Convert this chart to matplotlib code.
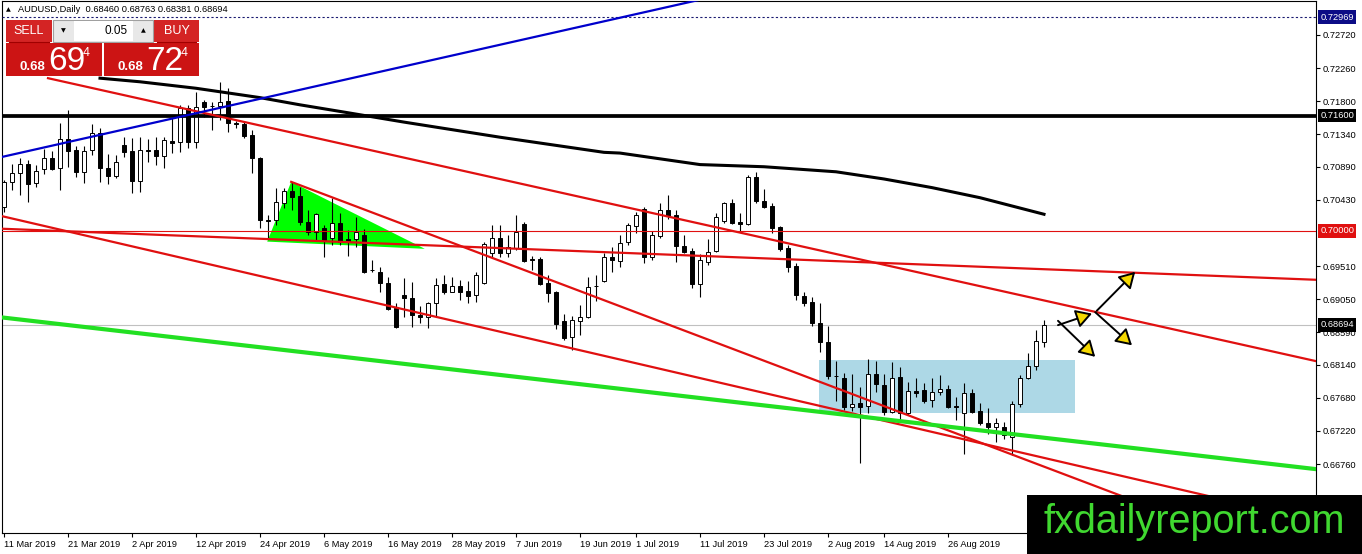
import numpy as np
import matplotlib
matplotlib.use("Agg")
import matplotlib.pyplot as plt
from matplotlib.patches import Rectangle, Polygon, FancyArrowPatch

plt.rcParams['font.family'] = ['Liberation Sans', 'DejaVu Sans']

# AUDUSD daily candles (bar 0 = 11 Mar 2019)
opens = [0.7033, 0.7068, 0.7080, 0.7093, 0.7066, 0.7086, 0.7101, 0.7087, 0.7128, 0.7112,
         0.7082, 0.7112, 0.7136, 0.7087, 0.7076, 0.7119, 0.7111, 0.7069, 0.7112, 0.7112,
         0.7104, 0.7125, 0.7123, 0.7171, 0.7123, 0.7179, 0.7174, 0.7174, 0.7180, 0.7150,
         0.7148, 0.7133, 0.7101, 0.7015, 0.7015, 0.7039, 0.7055, 0.7048, 0.7012, 0.6998,
         0.7004, 0.6990, 0.7011, 0.6989, 0.6989, 0.6994, 0.6946, 0.6943, 0.6928, 0.6893,
         0.6911, 0.6907, 0.6883, 0.6880, 0.6900, 0.6926, 0.6915, 0.6923, 0.6916, 0.6911,
         0.6928, 0.6969, 0.6990, 0.6969, 0.6976, 0.7009, 0.6961, 0.6961, 0.6928, 0.6915,
         0.6875, 0.6853, 0.6875, 0.6880, 0.6923, 0.6930, 0.6964, 0.6958, 0.6984, 0.7007,
         0.7030, 0.6964, 0.6993, 0.7029, 0.7022, 0.6979, 0.6972, 0.6926, 0.6957, 0.6972,
         0.7014, 0.7039, 0.7012, 0.7010, 0.7075, 0.7042, 0.7035, 0.7005, 0.6976, 0.6951,
         0.6909, 0.6901, 0.6872, 0.6845, 0.6799, 0.6796, 0.6755, 0.6761, 0.6756, 0.6801,
         0.6786, 0.6748, 0.6797, 0.6747, 0.6777, 0.6779, 0.6765, 0.6776, 0.6780, 0.6756,
         0.6747, 0.6775, 0.6750, 0.6733, 0.6727, 0.6727, 0.6714, 0.6759, 0.6796, 0.6812,
         0.68460]
highs = [0.7071, 0.7093, 0.7101, 0.7098, 0.7091, 0.7114, 0.7111, 0.7150, 0.7168, 0.7118,
         0.7118, 0.7148, 0.7143, 0.7107, 0.7105, 0.7130, 0.7129, 0.7130, 0.7128, 0.7130,
         0.7130, 0.7157, 0.7175, 0.7175, 0.7193, 0.7182, 0.7179, 0.7207, 0.7198, 0.7152,
         0.7151, 0.7140, 0.7102, 0.7022, 0.7060, 0.7060, 0.7068, 0.7061, 0.7029, 0.7025,
         0.7008, 0.7046, 0.7025, 0.7001, 0.7019, 0.7003, 0.6960, 0.6950, 0.6936, 0.6900,
         0.6934, 0.6929, 0.6896, 0.6901, 0.6934, 0.6939, 0.6936, 0.6932, 0.6930, 0.6943,
         0.6984, 0.7008, 0.7008, 0.6994, 0.7022, 0.7012, 0.6965, 0.6964, 0.6939, 0.6916,
         0.6884, 0.6882, 0.6897, 0.6936, 0.6939, 0.6969, 0.6978, 0.6994, 0.7011, 0.7026,
         0.7033, 0.7000, 0.7039, 0.7050, 0.7029, 0.6994, 0.6976, 0.6968, 0.6989, 0.7025,
         0.7040, 0.7044, 0.7025, 0.7078, 0.7082, 0.7058, 0.7039, 0.7007, 0.6980, 0.6955,
         0.6915, 0.6908, 0.6900, 0.6868, 0.6819, 0.6802, 0.6801, 0.6783, 0.6822, 0.6819,
         0.6801, 0.6818, 0.6811, 0.6790, 0.6796, 0.6789, 0.6796, 0.6800, 0.6786, 0.6769,
         0.6789, 0.6780, 0.6761, 0.6754, 0.6740, 0.6734, 0.6764, 0.6800, 0.6830, 0.6862,
         0.68763]
lows = [0.7026, 0.7057, 0.7050, 0.7040, 0.7061, 0.7079, 0.7085, 0.7057, 0.7089, 0.7075,
        0.7066, 0.7105, 0.7068, 0.7065, 0.7073, 0.7103, 0.7053, 0.7054, 0.7096, 0.7091,
        0.7087, 0.7108, 0.7109, 0.7115, 0.7115, 0.7158, 0.7140, 0.7154, 0.7137, 0.7143,
        0.7129, 0.7080, 0.7004, 0.6990, 0.7008, 0.7032, 0.7029, 0.7008, 0.6994, 0.6987,
        0.6964, 0.6980, 0.6980, 0.6965, 0.6978, 0.6941, 0.6943, 0.6915, 0.6890, 0.6865,
        0.6880, 0.6866, 0.6872, 0.6865, 0.6880, 0.6912, 0.6915, 0.6904, 0.6900, 0.6901,
        0.6926, 0.6964, 0.6963, 0.6964, 0.6973, 0.6957, 0.6946, 0.6925, 0.6901, 0.6864,
        0.6848, 0.6835, 0.6855, 0.6879, 0.6902, 0.6929, 0.6943, 0.6950, 0.6980, 0.6997,
        0.6955, 0.6960, 0.6990, 0.7016, 0.6957, 0.6969, 0.6921, 0.6908, 0.6953, 0.6971,
        0.7011, 0.7010, 0.6998, 0.7008, 0.7039, 0.7032, 0.6997, 0.6972, 0.6943, 0.6904,
        0.6896, 0.6868, 0.6832, 0.6794, 0.6764, 0.6751, 0.6750, 0.6678, 0.6747, 0.6776,
        0.6744, 0.6747, 0.6735, 0.6744, 0.6769, 0.6761, 0.6755, 0.6772, 0.6754, 0.6737,
        0.6690, 0.6747, 0.6730, 0.6718, 0.6707, 0.6711, 0.6688, 0.6755, 0.6794, 0.6807,
        0.68381]
closes = [0.7068, 0.7080, 0.7093, 0.7065, 0.7083, 0.7101, 0.7086, 0.7128, 0.7111, 0.7082,
          0.7111, 0.7136, 0.7087, 0.7076, 0.7096, 0.7109, 0.7069, 0.7112, 0.7111, 0.7104,
          0.7126, 0.7122, 0.7171, 0.7123, 0.7172, 0.7172, 0.7173, 0.7179, 0.7150, 0.7149,
          0.7132, 0.7101, 0.7015, 0.7014, 0.7040, 0.7055, 0.7047, 0.7012, 0.6998, 0.7023,
          0.6987, 0.7011, 0.6984, 0.6986, 0.6998, 0.6943, 0.6945, 0.6928, 0.6891, 0.6866,
          0.6907, 0.6883, 0.6880, 0.6900, 0.6925, 0.6915, 0.6923, 0.6915, 0.6909, 0.6939,
          0.6982, 0.6990, 0.6969, 0.6978, 0.6999, 0.6958, 0.6960, 0.6926, 0.6914, 0.6871,
          0.6851, 0.6876, 0.6880, 0.6922, 0.6924, 0.6964, 0.6960, 0.6983, 0.7008, 0.7022,
          0.6964, 0.6994, 0.7029, 0.7021, 0.6979, 0.6971, 0.6926, 0.6960, 0.6971, 0.7019,
          0.7039, 0.7011, 0.7010, 0.7075, 0.7042, 0.7033, 0.7004, 0.6975, 0.6950, 0.6911,
          0.6900, 0.6872, 0.6845, 0.6799, 0.6798, 0.6755, 0.6759, 0.6755, 0.6801, 0.6787,
          0.6748, 0.6796, 0.6747, 0.6777, 0.6775, 0.6764, 0.6776, 0.6780, 0.6755, 0.6755,
          0.6775, 0.6748, 0.6733, 0.6727, 0.6733, 0.6716, 0.6759, 0.6796, 0.6812, 0.6847,
          0.68694]

date_bars = [0, 8, 16, 24, 32, 40, 48, 56, 64, 72, 79, 87, 95, 103, 110, 118]
date_labels = ['11 Mar 2019', '21 Mar 2019', '2 Apr 2019', '12 Apr 2019', '24 Apr 2019',
               '6 May 2019', '16 May 2019', '28 May 2019', '7 Jun 2019', '19 Jun 2019',
               '1 Jul 2019', '11 Jul 2019', '23 Jul 2019', '2 Aug 2019', '14 Aug 2019',
               '26 Aug 2019']
price_ticks = [0.72720, 0.72260, 0.71800, 0.71340, 0.70890, 0.70430, 0.69510,
               0.69050, 0.68590, 0.68140, 0.67680, 0.67220, 0.66760, 0.66300]

# moving average (read at a few bars)
ma_bars = [12, 17, 24, 32, 37, 43, 50, 62, 75, 77, 87, 95, 104, 110, 116, 122, 130]
ma_vals = [0.7212, 0.7207, 0.7198, 0.7185, 0.7175, 0.7164, 0.7151, 0.7130, 0.7109,
           0.7108, 0.7092, 0.7089, 0.7082, 0.7072, 0.7060, 0.7046, 0.7023]

# trend lines: (bar, price) -> (bar, price)
red_lines = [((5.5, 0.7212), (164, 0.6819)),
             ((-0.5, 0.7003), (164, 0.6932)),
             ((35.9, 0.7068), (152, 0.6580)),
             ((-0.5, 0.7021), (164, 0.6597))]
blue_line = ((-0.5, 0.7102), (87, 0.7321))
green_line = ((-0.5, 0.6880), (164, 0.6669))
triangle = [(35.9, 0.7068), (32.9, 0.6985), (52.6, 0.6975)]
box_bars = (101.9, 133.9)
box_prices = (0.6747, 0.6821)
arrows = [((131.75, 0.6869), (136.0, 0.6885)),
          ((131.75, 0.6875), (136.4, 0.6825)),
          ((136.6, 0.6889), (141.4, 0.6943)),
          ((136.4, 0.6887), (141.0, 0.6841))]

# levels on the right axis: (price, box colour)
levels = [(0.72969, '#0c0c86'), (0.71600, 'black'), (0.70000, '#e01010'), (0.68694, 'black')]

W, H = 1362, 554
fig = plt.figure(figsize=(W / 100, H / 100), dpi=100)
fig.patch.set_facecolor('white')
ax = fig.add_axes([2 / W, 21 / H, 1314 / W, 532 / H])

o = np.array(opens); h = np.array(highs); l = np.array(lows); c = np.array(closes)
x = np.arange(len(o))
up = c >= o
bot = np.minimum(o, c)
hgt = np.maximum(np.abs(c - o), 0.00002)

# background objects
ax.add_patch(Rectangle((box_bars[0], box_prices[0]), box_bars[1] - box_bars[0],
                       box_prices[1] - box_prices[0], fc='#add8e6', ec='none', zorder=1))
ax.add_patch(Polygon(triangle, closed=True, fc='#00ff00', ec='none', zorder=1))

# candles
ax.vlines(x, l, h, color='black', lw=0.8, zorder=3)
ax.bar(x, hgt, bottom=bot, width=0.62, color=np.where(up, 'white', 'black'),
       edgecolor='black', lw=0.7, zorder=4)

# moving average
ax.plot(ma_bars, ma_vals, color='black', lw=2.2, zorder=5, solid_joinstyle='round')

# horizontal levels
ax.axhline(0.71600, color='black', lw=2.7, zorder=5)
ax.axhline(0.70000, color='#e01010', lw=0.8, zorder=5)
ax.axhline(0.72969, color='#1a1a70', lw=0.8, ls=(0, (2, 2)), zorder=5)
ax.axhline(0.68694, color='#c0c0c0', lw=0.8, zorder=2)

for (a, b) in red_lines:
    ax.plot([a[0], b[0]], [a[1], b[1]], color='#e01010', lw=1.6, zorder=5)
ax.plot([blue_line[0][0], blue_line[1][0]], [blue_line[0][1], blue_line[1][1]],
        color='#0000cc', lw=1.6, zorder=5)
ax.plot([green_line[0][0], green_line[1][0]], [green_line[0][1], green_line[1][1]],
        color='#22e022', lw=3, zorder=5)

for (a, b) in arrows:
    ax.add_patch(FancyArrowPatch(a, b, arrowstyle='-|>,head_length=6,head_width=3.5',
                                 fc='#f5d800', ec='black', lw=1.4, zorder=6,
                                 shrinkA=0, shrinkB=0, mutation_scale=1.6))

ax.set_xlim(-0.25, 164)
ax.set_ylim(0.65803, 0.73192)

# axes styling
for s in ax.spines.values():
    s.set_color('black')
    s.set_linewidth(0.8)
ax.yaxis.tick_right()
ax.set_yticks(price_ticks)
ax.set_yticklabels(['%.5f' % p for p in price_ticks])
ax.set_xticks(date_bars)
ax.set_xticklabels(date_labels)
for lbl in ax.get_xticklabels():
    lbl.set_ha('left')
ax.tick_params(axis='both', direction='out', length=3, width=0.8, labelsize=6.7,
               colors='black', pad=2)

for p, col in levels:
    ax.annotate('%.5f' % p, xy=(1, p), xycoords=('axes fraction', 'data'),
                xytext=(3, 0), textcoords='offset points', va='center', ha='left',
                color='white', fontsize=6.7, annotation_clip=False, zorder=10,
                bbox=dict(boxstyle='square,pad=0.25', fc=col, ec='none'))

# overlay in pixel space for header, trade panel and watermark
ov = fig.add_axes([0, 0, 1, 1])
ov.set_xlim(0, W)
ov.set_ylim(H, 0)
ov.axis('off')
ov.patch.set_alpha(0)

ov.text(6, 10, '\u25b2', fontsize=4.5, va='center', ha='left', family='DejaVu Sans')
ov.text(18, 10, 'AUDUSD,Daily  0.68460 0.68763 0.68381 0.68694', fontsize=6.7,
        va='center', ha='left')

red = '#cc1414'
ov.add_patch(Rectangle((6, 20), 46, 22, fc='#d42424', ec='none'))
ov.add_patch(Rectangle((154, 20), 45, 22, fc='#d42424', ec='none'))
ov.plot([9, 49], [41.5, 41.5], color='#a00000', lw=0.8)
ov.plot([157, 196], [41.5, 41.5], color='#a00000', lw=0.8)
ov.text(29, 31, 'SELL', color='white', fontsize=9, ha='center', va='center')
ov.text(176.5, 31, 'BUY', color='white', fontsize=9, ha='center', va='center')
ov.add_patch(Rectangle((53, 20), 100, 22, fc='#e8e8e8', ec='#a0a0a0', lw=0.8))
ov.add_patch(Rectangle((74, 21), 59, 20, fc='white', ec='none'))
ov.text(63, 31, '\u25bc', fontsize=4.5, ha='center', va='center', family='DejaVu Sans')
ov.text(143, 31, '\u25b2', fontsize=4.5, ha='center', va='center', family='DejaVu Sans')
ov.text(128, 31, '0.05', fontsize=8.5, ha='right', va='center')

ov.add_patch(Rectangle((6, 43), 96, 33, fc=red, ec='none'))
ov.add_patch(Rectangle((104, 43), 95, 33, fc=red, ec='none'))
for x0, big in [(20, '69'), (118, '72')]:
    ov.text(x0, 70, '0.68', color='white', fontsize=9.5, fontweight='bold',
            ha='left', va='baseline')
    ov.text(x0 + 28, 70, big, color='white', fontsize=24, ha='left', va='baseline')
    ov.text(x0 + 63, 47, '4', color='white', fontsize=9, ha='left', va='top')

ov.add_patch(Rectangle((1027, 495), W - 1027, H - 495, fc='black', ec='none', zorder=20))
ov.text(1194, 522, 'fxdailyreport.com', color='#40d830', fontsize=28.5,
        ha='center', va='center', zorder=21)

fig.savefig('out.png', dpi=100)
